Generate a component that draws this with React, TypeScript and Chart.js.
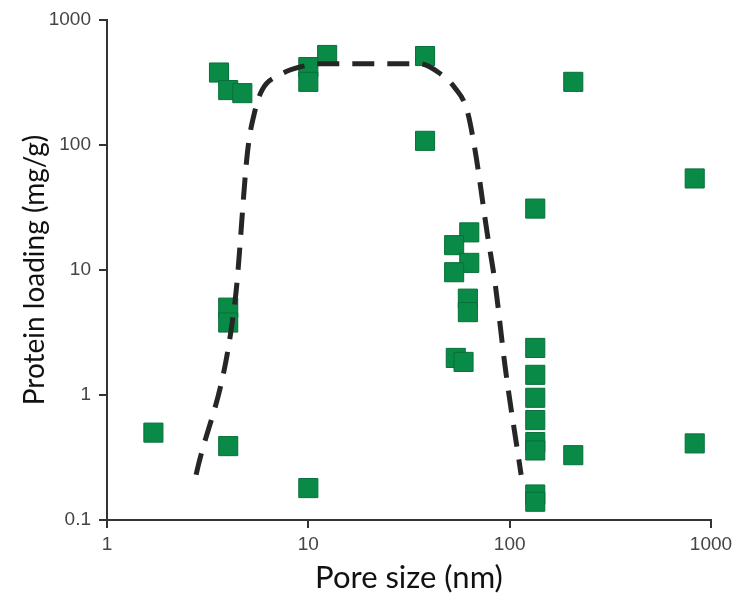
import React, { useEffect, useRef } from "react";
import { Chart, registerables } from "chart.js";

Chart.register(...registerables);

// Scatter data: pore size (nm) vs protein loading (mg/g)
const poreSize: number[] = [
  1.7, 3.6, 4.0, 4.7, 4.0, 4.0, 4.0,
  10, 10, 12.4, 10,
  38, 38,
  63, 53, 63, 53, 62, 62, 54, 59,
  134, 134, 134, 134, 134, 134, 134, 134, 134,
  207, 207, 830, 830,
];
const proteinLoading: number[] = [
  0.5, 380, 275, 260, 5.0, 3.8, 0.39,
  420, 320, 525, 0.18,
  515, 108,
  20, 15.8, 11.4, 9.6, 5.9, 4.6, 1.98, 1.84,
  31, 2.38, 1.45, 0.95, 0.63, 0.42, 0.36, 0.16, 0.14,
  320, 0.33, 54, 0.41,
];

// Dashed trend curve
const curveX: number[] = [2.77, 4.33, 5.0, 5.44, 5.89, 7.2, 9.1, 11.4, 36, 44, 53.5, 61.4, 67.3, 77.3, 84.6, 95, 114];
const curveY: number[] = [0.23, 5.75, 91, 190, 275, 363, 421, 446, 446, 384, 286, 190, 91, 19.8, 7.9, 1.67, 0.23];

const xTicks: number[] = [1, 10, 100, 1000];
const yTicks: number[] = [0.1, 1, 10, 100, 1000];

export default function App() {
  const ref = useRef<HTMLCanvasElement | null>(null);

  useEffect(() => {
    if (!ref.current) return;
    const points = poreSize.map((x, i) => ({ x, y: proteinLoading[i] }));
    const curve = curveX.map((x, i) => ({ x, y: curveY[i] }));
    const axisColor = "#333333";
    const chart = new Chart(ref.current, {
      type: "scatter",
      data: {
        datasets: [
          {
            data: curve,
            showLine: true,
            borderColor: "#262626",
            borderWidth: 5,
            borderDash: [22, 13],
            pointRadius: 0,
            cubicInterpolationMode: "monotone",
            fill: false,
            order: 0,
          } as any,
          {
            data: points,
            pointStyle: "rect",
            pointRadius: 13.5,
            pointHoverRadius: 13.5,
            backgroundColor: "#0a8a47",
            borderColor: "#06703a",
            borderWidth: 1,
            order: 1,
          },
        ],
      },
      options: {
        responsive: false,
        animation: false,
        layout: { padding: { top: 20, right: 30, left: 0, bottom: 0 } },
        plugins: { legend: { display: false }, tooltip: { enabled: false } },
        scales: {
          x: {
            type: "logarithmic",
            min: 1,
            max: 1000,
            afterBuildTicks: (s: any) => {
              s.ticks = xTicks.map((v) => ({ value: v }));
            },
            afterFit: (s: any) => {
              s.height = 83;
            },
            ticks: {
              callback: (v: any) => String(v),
              color: "#444444",
              font: { family: "'Liberation Sans', Arial, sans-serif", size: 19 },
              padding: 5,
              maxRotation: 0,
            },
            grid: {
              display: true,
              drawOnChartArea: false,
              drawTicks: true,
              tickLength: 8,
              color: axisColor,
              lineWidth: 2,
            },
            border: { display: true, color: axisColor, width: 2 },
            title: {
              display: true,
              text: "Pore size (nm)",
              color: "#111111",
              font: { family: "Lato, 'Open Sans', sans-serif", size: 31 },
              padding: { top: 0, bottom: 6 },
            },
          },
          y: {
            type: "logarithmic",
            min: 0.1,
            max: 1000,
            afterBuildTicks: (s: any) => {
              s.ticks = yTicks.map((v) => ({ value: v }));
            },
            afterFit: (s: any) => {
              s.width = 107;
            },
            ticks: {
              callback: (v: any) => String(v),
              color: "#444444",
              font: { family: "'Liberation Sans', Arial, sans-serif", size: 19 },
              padding: 8,
            },
            grid: {
              display: true,
              drawOnChartArea: false,
              drawTicks: true,
              tickLength: 8,
              color: axisColor,
              lineWidth: 2,
            },
            border: { display: true, color: axisColor, width: 2 },
            title: {
              display: true,
              text: "Protein loading (mg/g)",
              color: "#111111",
              font: { family: "Lato, 'Open Sans', sans-serif", size: 28 },
              padding: { top: 18, bottom: 0 },
            },
          },
        },
      },
    });
    return () => chart.destroy();
  }, []);

  return (
    <div style={{ position: "fixed", left: 0, top: 0, width: 741, height: 603, background: "#fff" }}>
      <canvas ref={ref} width={741} height={603} style={{ width: 741, height: 603 }} />
    </div>
  );
}
